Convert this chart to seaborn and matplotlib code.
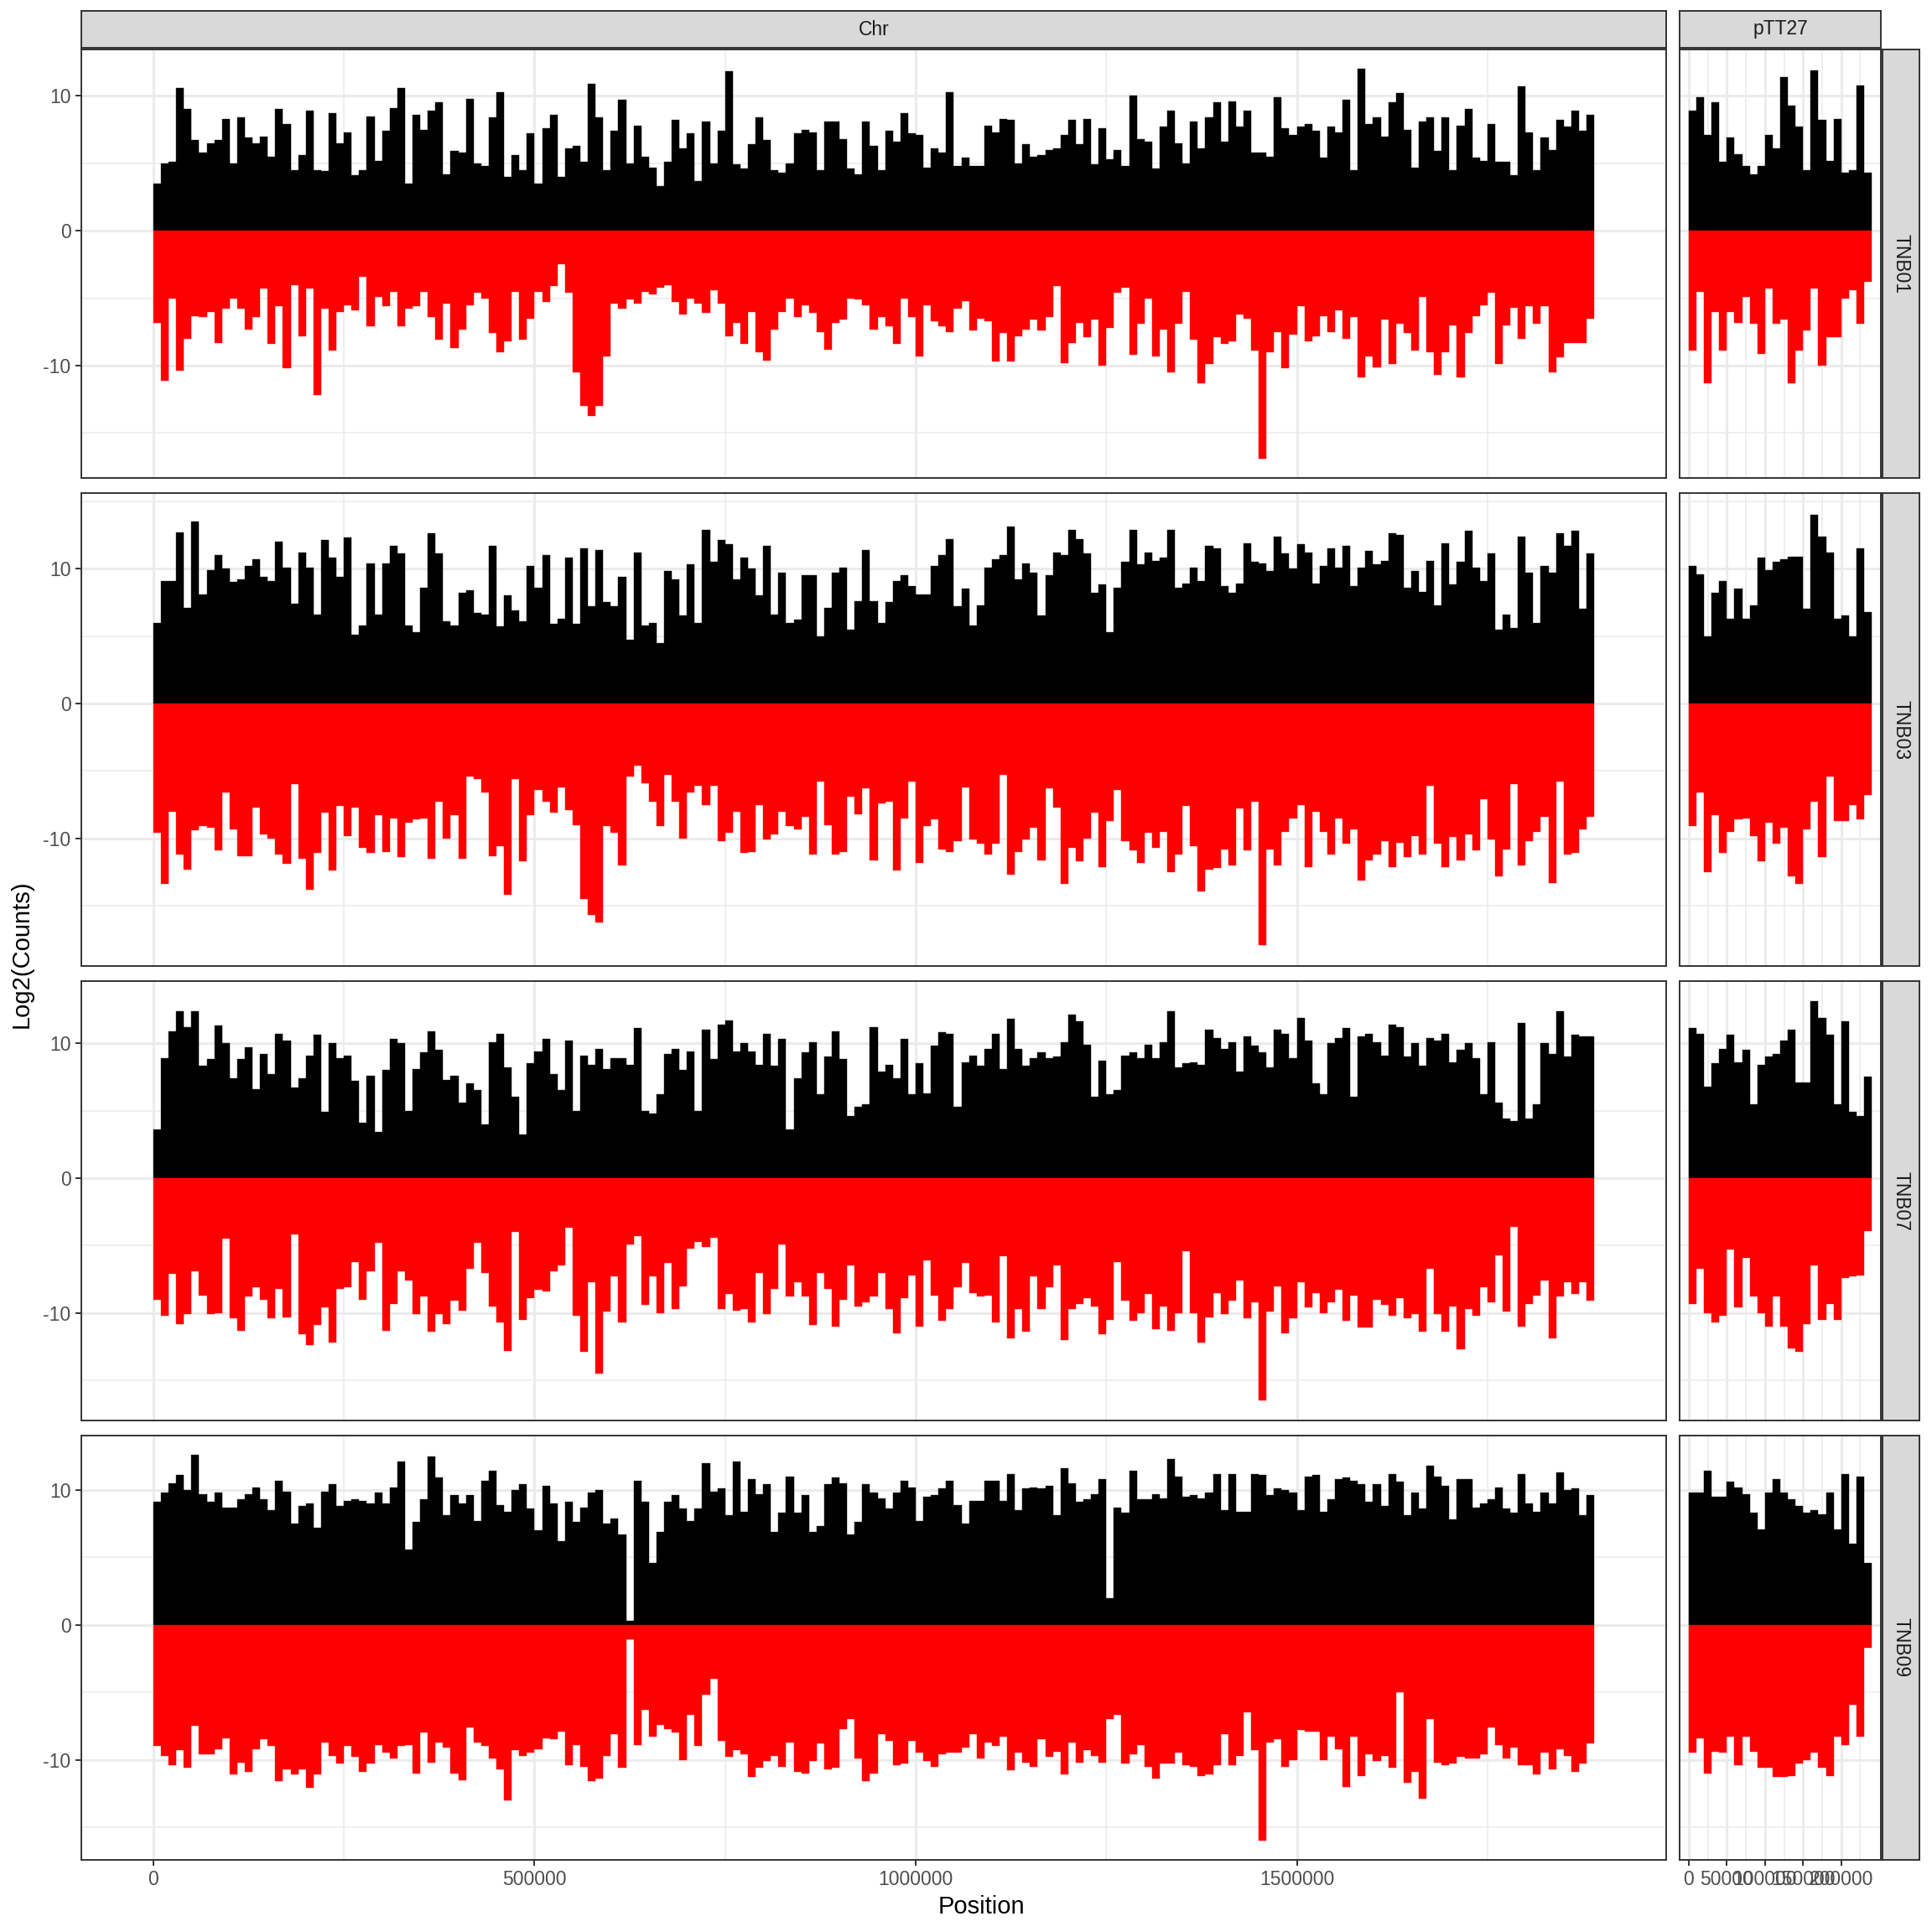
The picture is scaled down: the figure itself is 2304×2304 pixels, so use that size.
import numpy as np
import pandas as pd
import matplotlib
matplotlib.use("Agg")
import matplotlib.pyplot as plt
import seaborn as sns
from matplotlib.ticker import FixedLocator, FuncFormatter

# log2 counts per 10 kb window (black = forward, red = reverse)
bin_size = 10000
samples = ["TNB01", "TNB03", "TNB07", "TNB09"]
replicons = ["Chr", "pTT27"]

tnb01_chr_pos = [
    3.5, 5.0, 5.1, 10.6, 9.0, 6.7, 5.8, 6.5, 6.7, 8.3,
    5.0, 8.4, 6.9, 6.5, 7.0, 5.5, 9.0, 7.9, 4.5, 5.6,
    8.9, 4.5, 4.4, 8.7, 6.5, 7.3, 4.1, 4.5, 8.5, 5.2,
    7.4, 9.1, 10.6, 3.5, 8.6, 7.5, 8.9, 9.5, 4.2, 5.9,
    5.8, 9.8, 5.0, 4.8, 8.4, 10.3, 4.0, 5.6, 4.5, 7.2,
    3.5, 7.6, 8.6, 4.0, 6.1, 6.3, 5.1, 10.9, 8.4, 4.5,
    7.4, 9.7, 5.0, 7.8, 5.5, 4.7, 3.3, 5.1, 8.2, 6.1,
    7.2, 3.7, 8.1, 5.0, 7.4, 11.8, 4.9, 4.6, 6.4, 8.4,
    6.7, 4.5, 4.3, 5.0, 7.2, 7.5, 7.3, 4.5, 8.1, 8.1,
    6.8, 4.6, 4.2, 8.1, 6.3, 4.5, 7.4, 6.6, 8.7, 7.2,
    7.1, 4.7, 6.1, 5.8, 10.3, 4.8, 5.4, 4.8, 4.8, 7.8,
    7.3, 8.3, 8.2, 5.0, 6.4, 5.5, 5.6, 6.0, 6.1, 7.1,
    8.2, 6.4, 8.3, 4.9, 7.6, 5.3, 6.0, 4.8, 10.0, 6.8,
    6.6, 4.6, 7.7, 8.9, 6.5, 5.0, 8.1, 6.1, 8.4, 9.5,
    6.6, 9.6, 7.7, 8.9, 5.8, 5.8, 5.5, 9.9, 7.6, 7.1,
    7.7, 7.9, 7.4, 5.4, 7.7, 7.3, 9.7, 4.5, 12.0, 7.9,
    8.4, 7.0, 9.5, 10.2, 7.5, 4.7, 8.1, 8.4, 5.9, 8.4,
    4.5, 7.8, 9.0, 5.4, 5.2, 7.9, 5.1, 5.1, 4.1, 10.7,
    7.3, 4.5, 6.9, 6.0, 8.2, 7.7, 8.9, 7.4, 8.6,
]
tnb01_chr_neg = [
    -6.8, -11.1, -5.0, -10.4, -8.0, -6.3, -6.4, -6.0, -8.3, -5.8,
    -5.0, -5.8, -7.3, -6.4, -4.3, -8.4, -5.6, -10.2, -4.0, -7.8,
    -4.3, -12.2, -5.8, -8.9, -6.0, -5.5, -5.9, -3.4, -7.1, -4.9,
    -5.6, -4.5, -7.1, -5.8, -5.6, -4.5, -6.4, -8.1, -5.4, -8.7,
    -7.3, -5.5, -4.6, -5.0, -7.6, -9.0, -8.2, -4.5, -8.1, -6.5,
    -4.5, -5.3, -4.1, -2.5, -4.6, -10.5, -13.0, -13.7, -13.0, -9.3,
    -5.4, -5.8, -5.1, -5.4, -4.5, -4.7, -4.2, -4.0, -5.3, -6.2,
    -5.0, -5.4, -6.1, -4.4, -5.4, -7.8, -6.8, -8.4, -6.0, -9.0,
    -9.6, -7.3, -6.0, -5.0, -6.4, -5.5, -6.1, -7.5, -8.8, -6.8,
    -6.6, -5.0, -5.1, -5.5, -7.3, -6.4, -7.1, -8.4, -5.0, -6.4,
    -9.3, -5.5, -6.7, -7.1, -7.5, -5.8, -5.2, -7.4, -6.5, -6.7,
    -9.7, -7.6, -9.7, -7.8, -7.3, -6.6, -7.4, -6.4, -4.1, -9.8,
    -8.3, -6.8, -7.9, -6.6, -10.0, -7.2, -4.6, -4.2, -9.2, -6.9,
    -5.0, -9.3, -7.3, -10.5, -6.9, -4.5, -8.1, -11.3, -9.9, -7.9,
    -8.4, -8.2, -6.2, -6.5, -8.9, -16.9, -9.0, -7.5, -10.2, -7.7,
    -5.6, -8.2, -7.8, -6.3, -7.5, -5.9, -8.0, -6.4, -10.9, -9.3,
    -10.1, -6.6, -9.9, -6.9, -7.6, -8.9, -4.9, -9.0, -10.7, -9.0,
    -7.0, -10.9, -7.6, -6.3, -5.5, -4.6, -9.9, -7.0, -5.7, -8.0,
    -5.6, -6.9, -5.6, -10.5, -9.4, -8.3, -8.3, -8.3, -6.5,
]
tnb03_chr_pos = [
    6.0, 9.1, 9.1, 12.7, 7.1, 13.5, 8.1, 9.9, 11.0, 10.0,
    9.0, 9.2, 10.2, 10.7, 9.4, 9.1, 12.0, 10.1, 7.4, 11.2,
    10.1, 6.6, 12.1, 10.8, 9.4, 12.3, 5.1, 5.8, 10.4, 6.6,
    10.4, 11.7, 11.1, 5.8, 5.3, 8.6, 12.6, 11.1, 6.1, 5.8,
    8.2, 8.4, 6.7, 6.6, 11.7, 5.7, 8.0, 6.9, 6.1, 10.2,
    8.6, 11.0, 5.9, 6.3, 10.8, 5.9, 11.5, 7.2, 11.4, 7.5,
    7.2, 9.4, 4.7, 11.2, 5.8, 6.0, 4.5, 9.8, 9.2, 6.5,
    10.3, 6.0, 12.9, 10.5, 12.1, 11.8, 9.2, 10.8, 10.0, 8.0,
    11.7, 6.6, 9.7, 6.0, 6.2, 9.5, 9.5, 5.0, 7.1, 9.7,
    10.1, 5.5, 7.6, 11.4, 7.6, 6.0, 7.5, 9.1, 9.5, 8.7,
    8.1, 8.1, 10.2, 11.0, 12.2, 7.2, 8.5, 5.8, 7.3, 10.1,
    10.7, 11.0, 13.1, 9.2, 10.4, 9.7, 6.5, 9.5, 11.2, 11.0,
    12.9, 12.2, 11.1, 8.2, 8.8, 5.3, 8.6, 10.5, 12.9, 10.3,
    11.2, 10.6, 10.8, 12.9, 8.6, 8.9, 10.1, 9.1, 11.7, 11.5,
    8.7, 8.2, 8.9, 11.9, 10.5, 10.4, 9.8, 12.4, 11.1, 10.0,
    11.8, 11.2, 8.9, 10.2, 11.5, 10.1, 11.7, 8.7, 10.1, 11.3,
    10.3, 10.6, 12.6, 12.5, 8.6, 9.8, 8.3, 10.6, 7.3, 11.9,
    8.8, 10.5, 12.8, 10.1, 9.1, 11.1, 5.5, 6.6, 5.6, 12.4,
    9.7, 6.0, 10.2, 9.7, 12.6, 11.7, 12.8, 7.0, 11.1,
]
tnb03_chr_neg = [
    -9.6, -13.4, -8.0, -11.2, -12.3, -9.4, -9.1, -9.2, -10.9, -6.6,
    -9.3, -11.3, -11.3, -7.7, -9.7, -10.0, -11.2, -11.9, -6.0, -11.5,
    -13.8, -11.1, -8.1, -12.4, -7.6, -9.8, -7.7, -10.7, -11.1, -8.3,
    -11.0, -8.5, -11.4, -8.8, -8.6, -8.5, -11.5, -7.3, -10.0, -8.3,
    -11.5, -5.4, -5.6, -6.6, -11.3, -10.6, -14.2, -5.6, -11.7, -8.3,
    -6.4, -7.3, -8.1, -6.2, -7.9, -9.0, -14.5, -15.7, -16.2, -9.1,
    -9.6, -12.0, -5.4, -4.6, -5.9, -7.3, -9.1, -5.3, -7.3, -10.0,
    -6.6, -6.1, -7.5, -6.1, -10.2, -9.6, -8.0, -11.1, -11.0, -7.5,
    -10.1, -9.7, -8.0, -9.1, -9.3, -8.4, -11.2, -5.8, -9.0, -11.2,
    -11.0, -6.9, -8.2, -6.3, -11.6, -7.4, -7.3, -12.4, -8.5, -5.8,
    -11.8, -9.1, -8.6, -10.8, -11.0, -10.2, -6.2, -10.1, -10.4, -11.2,
    -10.4, -5.3, -12.7, -11.0, -10.1, -9.2, -11.6, -6.3, -7.7, -13.4,
    -10.7, -11.7, -10.0, -8.1, -12.1, -8.7, -6.4, -10.2, -10.9, -11.8,
    -9.6, -10.7, -9.5, -12.5, -11.2, -7.6, -10.6, -13.9, -12.3, -12.2,
    -10.8, -12.0, -7.8, -10.9, -7.3, -17.9, -10.8, -12.0, -9.5, -8.5,
    -7.5, -12.1, -8.0, -9.5, -11.2, -8.5, -10.4, -9.3, -13.1, -11.6,
    -11.2, -10.2, -12.1, -10.3, -11.4, -9.8, -11.2, -6.1, -10.4, -12.1,
    -9.9, -11.6, -9.7, -10.9, -7.1, -10.1, -12.8, -10.8, -6.0, -12.0,
    -10.2, -9.5, -8.4, -13.3, -5.8, -11.2, -11.1, -9.3, -8.4,
]
tnb07_chr_pos = [
    3.6, 8.9, 10.9, 12.4, 11.2, 12.4, 8.3, 8.8, 11.3, 10.0,
    7.4, 8.8, 9.7, 6.6, 9.2, 7.7, 10.7, 10.2, 6.7, 7.4,
    9.1, 10.6, 4.9, 10.0, 8.9, 9.1, 7.2, 4.1, 7.6, 3.4,
    8.0, 10.3, 10.0, 5.0, 8.1, 9.3, 10.9, 9.5, 7.3, 7.6,
    5.6, 7.0, 6.5, 4.0, 10.1, 10.7, 8.2, 6.0, 3.2, 8.5,
    9.4, 10.3, 7.7, 6.5, 10.2, 5.0, 9.1, 8.4, 9.6, 8.1,
    8.9, 8.9, 8.4, 11.1, 5.0, 4.8, 6.2, 9.2, 9.6, 8.0,
    9.4, 5.0, 11.0, 8.8, 11.4, 11.7, 9.4, 10.0, 9.4, 8.4,
    10.7, 8.3, 10.3, 3.6, 7.4, 9.3, 10.1, 6.2, 9.0, 10.9,
    8.8, 4.6, 5.3, 5.5, 11.2, 7.9, 8.4, 7.4, 10.3, 6.2,
    8.5, 6.3, 9.8, 10.8, 10.7, 5.3, 8.6, 9.1, 8.3, 9.6,
    10.7, 8.1, 11.8, 9.6, 8.3, 8.9, 9.3, 8.9, 9.0, 10.1,
    12.1, 11.6, 9.9, 6.0, 8.7, 6.2, 6.5, 9.1, 9.3, 8.9,
    9.9, 8.9, 10.1, 12.4, 8.2, 8.5, 8.6, 8.4, 11.0, 10.4,
    9.6, 10.1, 7.9, 10.5, 9.8, 9.3, 8.2, 11.0, 10.7, 8.9,
    11.9, 10.2, 7.0, 6.2, 10.0, 10.4, 11.1, 6.0, 10.5, 10.7,
    10.1, 9.1, 11.4, 11.2, 9.0, 10.0, 8.3, 10.4, 10.2, 10.7,
    8.6, 9.5, 10.0, 8.9, 6.2, 10.1, 5.6, 4.4, 4.2, 11.5,
    4.4, 5.5, 10.0, 9.2, 12.4, 9.0, 10.6, 10.5, 10.5,
]
tnb07_chr_neg = [
    -9.0, -10.2, -7.1, -10.8, -10.1, -6.9, -8.7, -10.1, -10.0, -4.5,
    -10.4, -11.3, -8.8, -8.1, -9.0, -10.4, -8.2, -10.3, -4.2, -11.6,
    -12.4, -10.9, -9.6, -12.2, -8.2, -8.1, -6.2, -9.0, -6.9, -4.8,
    -11.3, -9.3, -6.9, -7.6, -10.1, -8.8, -11.4, -10.1, -10.8, -9.1,
    -9.8, -6.7, -4.8, -7.0, -9.5, -10.7, -12.8, -4.0, -10.5, -8.9,
    -8.3, -8.4, -6.9, -6.5, -3.7, -10.2, -12.9, -7.7, -14.5, -9.9,
    -7.3, -10.7, -4.9, -4.3, -9.4, -7.3, -10.0, -6.3, -9.7, -8.0,
    -5.2, -4.7, -5.1, -4.4, -9.7, -8.6, -9.8, -9.7, -10.7, -7.0,
    -10.1, -8.2, -4.9, -8.8, -7.7, -8.8, -10.9, -7.0, -8.2, -11.0,
    -9.0, -6.5, -9.5, -9.2, -8.8, -7.0, -9.7, -11.5, -8.9, -7.2,
    -11.0, -6.1, -8.7, -10.6, -9.7, -8.1, -6.3, -8.5, -8.8, -8.7,
    -10.7, -5.8, -11.9, -9.7, -11.4, -7.3, -9.7, -8.1, -6.5, -12.0,
    -9.7, -9.3, -8.9, -9.5, -11.6, -10.5, -6.2, -9.1, -10.6, -10.0,
    -8.6, -11.2, -9.5, -11.3, -10.0, -5.4, -10.0, -12.2, -10.3, -8.5,
    -10.1, -9.1, -7.6, -10.4, -9.2, -16.5, -9.9, -8.0, -11.5, -10.4,
    -7.7, -9.6, -8.5, -10.0, -9.2, -8.3, -10.6, -8.7, -11.1, -11.1,
    -9.0, -9.4, -10.2, -8.9, -10.4, -10.1, -11.4, -6.7, -10.1, -11.4,
    -9.5, -12.7, -9.7, -10.2, -8.1, -9.2, -5.7, -9.9, -3.6, -11.0,
    -9.3, -8.7, -7.6, -11.9, -8.8, -7.7, -8.6, -7.7, -9.1,
]
tnb09_chr_pos = [
    9.1, 9.8, 10.5, 11.1, 10.0, 12.6, 9.7, 9.1, 9.8, 8.7,
    8.7, 9.3, 9.7, 10.2, 9.3, 8.5, 10.7, 9.9, 7.5, 8.8,
    9.0, 7.2, 9.9, 10.4, 8.8, 9.2, 9.3, 9.2, 9.0, 9.8,
    9.0, 10.2, 12.1, 5.6, 7.6, 9.3, 12.5, 10.9, 8.1, 9.6,
    9.0, 9.6, 7.7, 10.7, 11.4, 8.9, 8.4, 10.0, 10.4, 8.6,
    7.0, 10.3, 9.0, 6.2, 9.1, 7.6, 8.7, 9.8, 10.0, 7.5,
    7.9, 6.7, 0.3, 10.7, 9.1, 4.6, 6.9, 9.1, 9.6, 8.6,
    7.7, 8.6, 12.0, 9.9, 10.1, 8.1, 12.1, 8.4, 10.8, 9.7,
    10.4, 6.9, 8.3, 11.0, 8.3, 9.6, 6.9, 7.3, 10.4, 10.9,
    10.5, 6.7, 7.6, 10.4, 9.8, 9.4, 8.6, 9.8, 10.7, 10.2,
    7.7, 9.5, 9.6, 10.1, 10.7, 8.9, 7.5, 9.2, 9.2, 10.7,
    10.7, 9.2, 11.2, 8.5, 10.1, 10.2, 10.1, 10.3, 8.1, 11.6,
    10.5, 9.1, 9.3, 9.7, 10.8, 2.0, 8.7, 8.3, 11.4, 9.3,
    9.3, 9.7, 9.4, 12.3, 11.0, 9.5, 9.6, 9.4, 9.8, 11.2,
    8.5, 11.2, 8.4, 8.4, 11.2, 11.1, 9.6, 10.1, 10.0, 9.8,
    8.5, 11.0, 11.1, 8.4, 9.3, 10.8, 10.9, 10.7, 10.4, 9.1,
    10.4, 8.8, 11.2, 10.6, 8.1, 9.8, 8.6, 11.8, 11.0, 10.3,
    7.8, 10.8, 10.8, 8.7, 9.0, 9.3, 10.2, 8.6, 8.3, 11.2,
    9.0, 8.4, 9.8, 9.0, 11.3, 10.0, 10.1, 8.1, 9.6,
]
tnb09_chr_neg = [
    -9.0, -9.7, -10.4, -9.3, -10.6, -7.5, -9.6, -9.6, -9.2, -8.4,
    -11.1, -10.2, -10.9, -9.2, -8.5, -9.0, -11.6, -10.7, -11.1, -10.7,
    -12.1, -11.1, -8.7, -9.7, -10.3, -9.0, -9.8, -10.9, -10.3, -8.9,
    -9.5, -9.9, -9.0, -8.9, -11.0, -8.0, -10.2, -8.7, -9.1, -11.0,
    -11.5, -7.6, -8.7, -9.0, -9.9, -10.7, -13.0, -9.3, -9.7, -9.5,
    -9.2, -8.4, -8.5, -7.9, -10.4, -8.9, -10.5, -11.6, -11.4, -9.7,
    -8.1, -10.6, -1.1, -8.9, -6.3, -8.3, -7.4, -7.7, -8.0, -10.0,
    -6.7, -9.0, -5.2, -4.0, -8.6, -9.8, -9.3, -9.6, -11.3, -10.6,
    -10.1, -9.7, -10.5, -8.7, -10.9, -11.0, -10.1, -8.8, -10.7, -10.6,
    -7.7, -7.0, -9.9, -11.6, -11.0, -8.1, -8.6, -10.4, -10.3, -8.6,
    -9.5, -10.1, -10.5, -9.6, -9.5, -9.5, -9.1, -8.1, -9.9, -8.7,
    -9.0, -8.3, -10.8, -9.5, -10.2, -10.5, -8.5, -9.8, -9.4, -11.1,
    -8.7, -10.2, -9.3, -9.7, -10.2, -7.0, -6.7, -10.3, -9.6, -8.9,
    -10.5, -11.4, -10.3, -10.3, -9.5, -10.4, -10.5, -11.2, -11.1, -10.4,
    -8.1, -10.4, -9.7, -6.5, -9.3, -16.0, -8.7, -8.5, -10.5, -10.0,
    -7.8, -7.9, -7.9, -10.0, -8.3, -9.2, -12.0, -8.3, -11.2, -9.6,
    -10.1, -9.7, -10.6, -5.0, -11.7, -10.9, -12.9, -7.0, -10.2, -10.4,
    -10.3, -9.8, -9.9, -9.9, -9.6, -7.6, -8.9, -9.9, -9.1, -10.4,
    -10.4, -11.1, -9.5, -10.7, -9.2, -9.7, -10.9, -10.3, -8.8,
]

tnb01_ptt_pos = [8.9, 9.9, 7.1, 9.5, 5.1, 6.9, 5.7, 4.8, 4.2, 4.8, 7.1, 6.1,
                 11.4, 9.3, 7.7, 4.5, 11.9, 8.2, 5.2, 8.3, 4.3, 4.5, 10.8, 4.3]
tnb01_ptt_neg = [-8.9, -4.5, -11.3, -6.0, -8.9, -6.0, -6.8, -4.9, -6.9, -9.1, -4.3, -6.9,
                 -6.6, -11.3, -8.9, -7.4, -4.3, -10.0, -7.9, -7.9, -5.0, -4.4, -6.9, -3.8]
tnb03_ptt_pos = [10.2, 9.6, 5.0, 8.2, 9.1, 6.3, 8.5, 6.3, 7.3, 10.8, 9.9, 10.5,
                 10.7, 10.9, 10.9, 7.0, 14.0, 12.4, 11.2, 6.3, 6.5, 5.0, 11.5, 6.8]
tnb03_ptt_neg = [-9.1, -6.6, -12.5, -8.3, -11.1, -9.5, -8.6, -8.5, -9.8, -11.7, -8.8, -10.4,
                 -9.2, -12.8, -13.4, -9.3, -7.3, -11.4, -5.4, -8.7, -8.7, -7.5, -8.6, -6.8]
tnb07_ptt_pos = [11.1, 10.7, 6.8, 8.5, 9.6, 10.6, 8.6, 9.5, 5.5, 8.4, 9.0, 9.2,
                 10.2, 11.0, 7.1, 7.1, 13.1, 11.9, 10.6, 5.5, 11.6, 4.9, 4.6, 7.5]
tnb07_ptt_neg = [-9.3, -6.7, -10.0, -10.7, -10.2, -5.3, -9.6, -5.9, -8.8, -10.0, -11.0, -8.8,
                 -11.0, -12.6, -12.9, -10.8, -6.5, -10.5, -9.3, -10.5, -7.4, -7.3, -7.2, -3.9]
tnb09_ptt_pos = [9.8, 9.8, 11.4, 9.5, 9.5, 10.6, 10.2, 9.7, 8.3, 7.1, 9.8, 10.8,
                 9.8, 9.3, 8.8, 8.3, 8.5, 8.2, 9.8, 7.1, 11.2, 6.0, 11.0, 4.6]
tnb09_ptt_neg = [-9.5, -8.4, -11.0, -9.4, -9.5, -8.3, -10.4, -8.3, -9.4, -10.6, -10.6, -11.3,
                 -11.3, -11.2, -10.3, -10.0, -9.5, -10.6, -11.2, -8.3, -8.9, -5.9, -8.3, -1.7]

series = {
    ("TNB01", "Chr"): (tnb01_chr_pos, tnb01_chr_neg),
    ("TNB03", "Chr"): (tnb03_chr_pos, tnb03_chr_neg),
    ("TNB07", "Chr"): (tnb07_chr_pos, tnb07_chr_neg),
    ("TNB09", "Chr"): (tnb09_chr_pos, tnb09_chr_neg),
    ("TNB01", "pTT27"): (tnb01_ptt_pos, tnb01_ptt_neg),
    ("TNB03", "pTT27"): (tnb03_ptt_pos, tnb03_ptt_neg),
    ("TNB07", "pTT27"): (tnb07_ptt_pos, tnb07_ptt_neg),
    ("TNB09", "pTT27"): (tnb09_ptt_pos, tnb09_ptt_neg),
}

rows = []
for (sample, rep), (pos, neg) in series.items():
    for i, v in enumerate(pos):
        rows.append((sample, rep, i * bin_size, v, "+"))
    for i, v in enumerate(neg):
        rows.append((sample, rep, i * bin_size, v, "-"))
df = pd.DataFrame(rows, columns=["sample", "replicon", "start", "log2", "strand"])


def expand(lo, hi, mult=0.05):
    span = hi - lo
    return lo - span * mult, hi + span * mult


xlims = {r: expand(0, df.loc[df.replicon == r, "start"].max() + bin_size) for r in replicons}
ylims = {}
for s in samples:
    v = df.loc[df["sample"] == s, "log2"]
    ylims[s] = expand(min(0, v.min()), max(0, v.max()))

width_ratios = [xlims[r][1] - xlims[r][0] for r in replicons]
height_ratios = [ylims[s][1] - ylims[s][0] for s in samples]

sns.set_theme(style="white")
plt.rcParams["font.family"] = ["Liberation Sans", "DejaVu Sans"]
plt.rcParams["axes.unicode_minus"] = False

g = sns.FacetGrid(df, row="sample", col="replicon", row_order=samples, col_order=replicons,
                  sharex="col", sharey="row", height=5.76, aspect=2.0, despine=False,
                  gridspec_kws={"width_ratios": width_ratios, "height_ratios": height_ratios})


def draw_counts(data, **kws):
    ax = plt.gca()
    for strand, colour in (("+", "black"), ("-", "red")):
        part = data[data["strand"] == strand]
        ax.bar(part["start"], part["log2"], width=bin_size, align="edge",
               color=colour, edgecolor=colour, linewidth=0.3)


g.map_dataframe(draw_counts)
g.set_titles("")
g.set_axis_labels("", "")

fig = g.figure
fig.set_size_inches(23.04, 23.04)
W = 2304.0
fig.subplots_adjust(left=97 / W, right=2243 / W, top=1 - 59 / W, bottom=1 - 2218 / W,
                    wspace=0.015, hspace=0.0342)

grid_col = "#EBEBEB"
border_col = "#333333"
int_fmt = FuncFormatter(lambda v, p: f"{int(round(v))}")
xmajor = {"Chr": [0, 500000, 1000000, 1500000], "pTT27": [0, 50000, 100000, 150000, 200000]}
xminor = {"Chr": [250000, 750000, 1250000, 1750000],
          "pTT27": [25000, 75000, 125000, 175000, 225000]}

for i, s in enumerate(samples):
    for j, r in enumerate(replicons):
        ax = g.axes[i, j]
        ax.set_title("")
        ax.set_facecolor("white")
        ax.set_xlim(*xlims[r])
        ax.set_ylim(*ylims[s])
        ax.xaxis.set_major_locator(FixedLocator(xmajor[r]))
        ax.xaxis.set_minor_locator(FixedLocator(xminor[r]))
        ax.yaxis.set_major_locator(FixedLocator([-20, -10, 0, 10, 20]))
        ax.yaxis.set_minor_locator(FixedLocator([-15, -5, 5, 15]))
        ax.xaxis.set_major_formatter(int_fmt)
        ax.yaxis.set_major_formatter(int_fmt)
        ax.set_axisbelow(True)
        ax.grid(which="major", color=grid_col, linewidth=2.2)
        ax.grid(which="minor", color=grid_col, linewidth=1.1)
        for sp in ax.spines.values():
            sp.set_visible(True)
            sp.set_color(border_col)
            sp.set_linewidth(1.4)
        ax.tick_params(which="major", direction="out", length=5, width=1.4, color=border_col,
                       labelsize=16.5, labelcolor="#4D4D4D", pad=4,
                       bottom=(i == len(samples) - 1), left=(j == 0),
                       labelbottom=(i == len(samples) - 1), labelleft=(j == 0))
        ax.tick_params(which="minor", length=0)
        ax.set_xlabel("")
        ax.set_ylabel("")

# strips in ggplot style
px = 1 / W
for j, r in enumerate(replicons):
    p = g.axes[0, j].get_position()
    sax = fig.add_axes([p.x0, p.y1 + 2 * px, p.width, 44 * px])
    sax.set_facecolor("#D9D9D9")
    sax.set_xticks([])
    sax.set_yticks([])
    for sp in sax.spines.values():
        sp.set_color(border_col)
        sp.set_linewidth(1.4)
    sax.text(0.5, 0.5, r, ha="center", va="center", fontsize=16.5, color="#1A1A1A",
             transform=sax.transAxes)

for i, s in enumerate(samples):
    p = g.axes[i, -1].get_position()
    sax = fig.add_axes([p.x1 + 2 * px, p.y0, 44 * px, p.height])
    sax.set_facecolor("#D9D9D9")
    sax.set_xticks([])
    sax.set_yticks([])
    for sp in sax.spines.values():
        sp.set_color(border_col)
        sp.set_linewidth(1.4)
    sax.text(0.5, 0.5, s, ha="center", va="center", rotation=270, fontsize=16.5,
             color="#1A1A1A", transform=sax.transAxes)

fig.text((97 + 2243) / 2 / W, 1 - 2274 / W, "Position", ha="center", va="center",
         fontsize=21, color="black")
fig.text(26 / W, 1 - 1138 / W, "Log2(Counts)", ha="center", va="center", rotation=90,
         fontsize=21, color="black")

fig.savefig("out.png", dpi=100, facecolor="white")
